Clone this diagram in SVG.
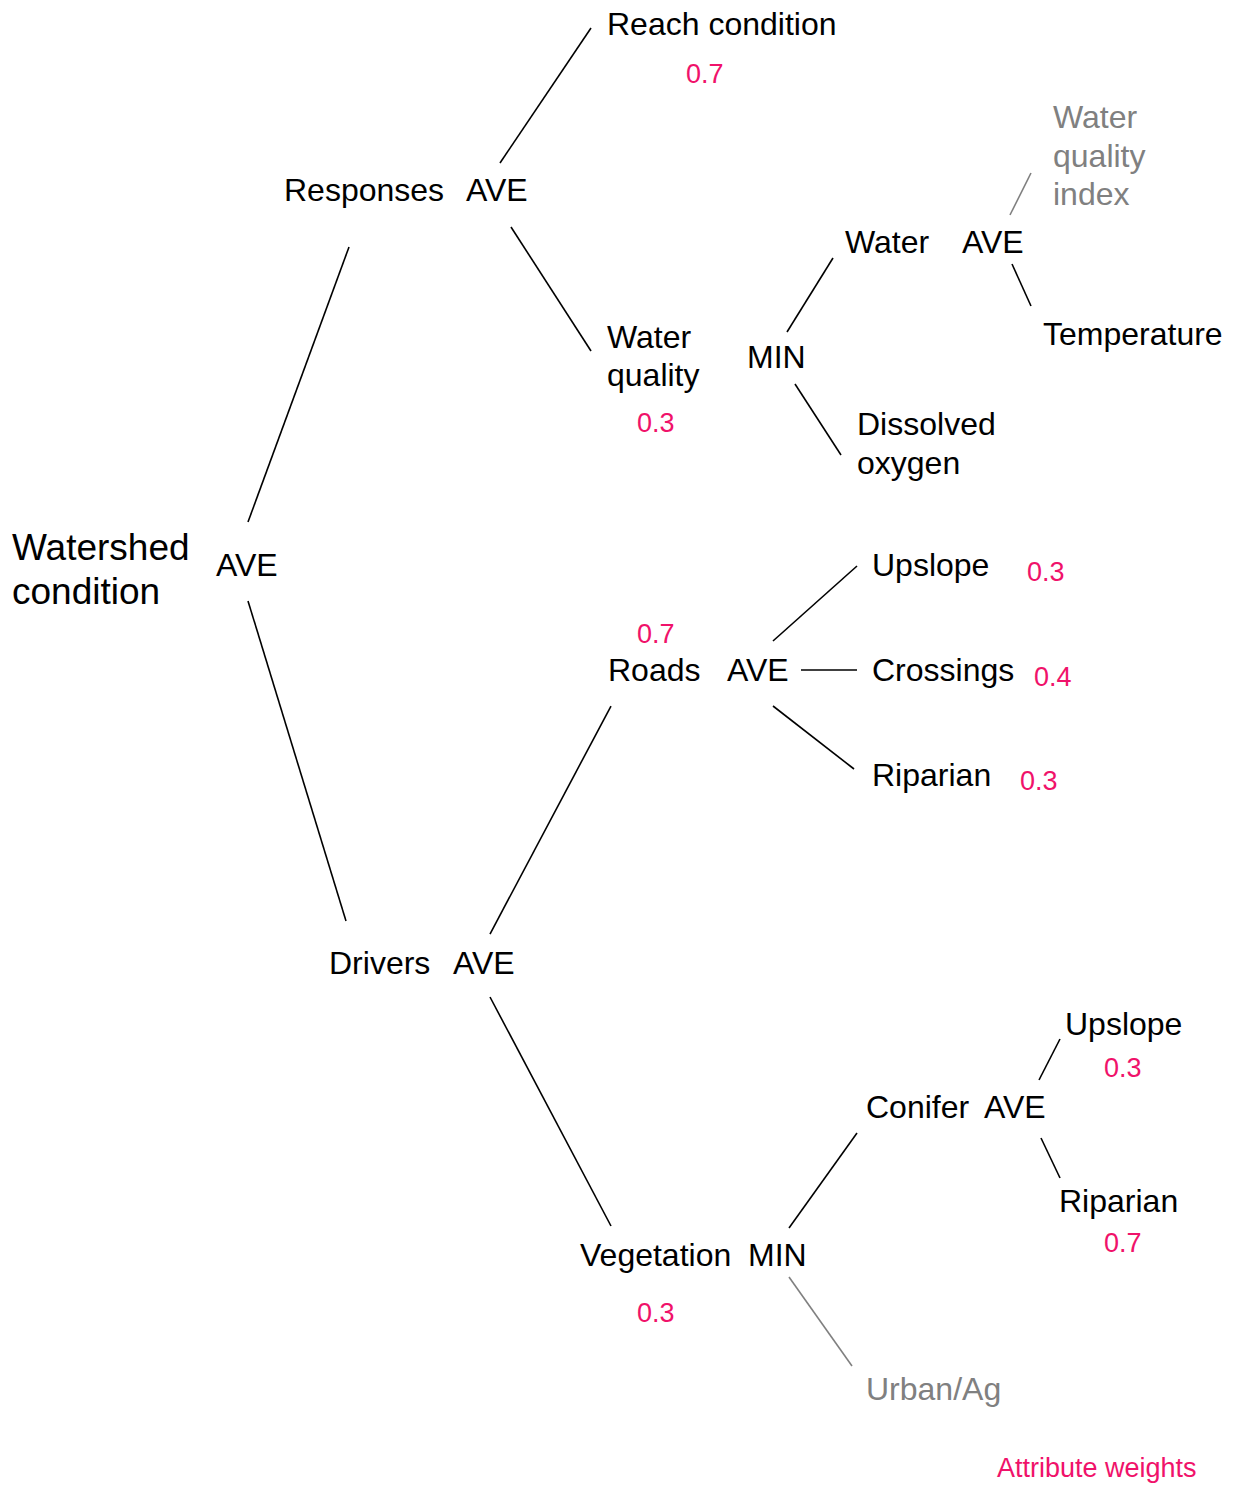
<svg xmlns="http://www.w3.org/2000/svg" width="1235" height="1489" viewBox="0 0 1235 1489">
<style>
text{font-family:"Liberation Sans",Arial,sans-serif;font-size:32px;fill:#000}
.w{fill:#f0126a;font-size:27px}
.g{fill:#808080}
.big{font-size:37px}
#connectors line{stroke:#000;stroke-width:1.6}
#connectors line.gl{stroke:#808080}
</style>
<rect width="1235" height="1489" fill="#fff"/>
<g id="connectors">
<line x1="500" y1="163" x2="591" y2="28"/>
<line x1="511" y1="227" x2="591" y2="351"/>
<line x1="349" y1="247" x2="248" y2="522"/>
<line x1="248" y1="601" x2="346" y2="921"/>
<line x1="490" y1="934" x2="611" y2="706"/>
<line x1="490" y1="997" x2="611" y2="1226"/>
<line x1="787" y1="332" x2="833" y2="258"/>
<line x1="795" y1="384" x2="841" y2="455"/>
<line class="gl" x1="1010" y1="215" x2="1031" y2="173"/>
<line x1="1012" y1="264" x2="1031" y2="306"/>
<line x1="773" y1="641" x2="857" y2="566"/>
<line x1="801" y1="670" x2="857" y2="670"/>
<line x1="773" y1="706" x2="854" y2="769"/>
<line x1="789" y1="1228" x2="857" y2="1133"/>
<line x1="1039" y1="1080" x2="1060" y2="1039"/>
<line x1="1041" y1="1138" x2="1060" y2="1178"/>
<line class="gl" x1="789" y1="1277" x2="852" y2="1366"/>
</g>
<g id="watershed"><text class="big" x="12" y="560">Watershed</text><text class="big" x="12" y="604">condition</text><text x="216" y="576">AVE</text></g>
<g id="responses"><text x="284" y="201">Responses</text><text x="466" y="201">AVE</text></g>
<g id="reach"><text x="607" y="35">Reach condition</text><text class="w" x="686" y="83">0.7</text></g>
<g id="waterquality"><text x="607" y="348">Water</text><text x="607" y="386">quality</text><text class="w" x="637" y="432">0.3</text><text x="747" y="368">MIN</text></g>
<g id="water"><text x="845" y="253">Water</text><text x="962" y="253">AVE</text></g>
<g id="wqi"><text class="g" x="1053" y="128">Water</text><text class="g" x="1053" y="167">quality</text><text class="g" x="1053" y="205">index</text></g>
<g id="temperature"><text x="1043" y="345">Temperature</text></g>
<g id="dissolved"><text x="857" y="435">Dissolved</text><text x="857" y="474">oxygen</text></g>
<g id="roads"><text class="w" x="637" y="643">0.7</text><text x="608" y="681">Roads</text><text x="727" y="681">AVE</text></g>
<g id="upslope1"><text x="872" y="576">Upslope</text><text class="w" x="1027" y="581">0.3</text></g>
<g id="crossings"><text x="872" y="681">Crossings</text><text class="w" x="1034" y="686">0.4</text></g>
<g id="riparian1"><text x="872" y="786">Riparian</text><text class="w" x="1020" y="790">0.3</text></g>
<g id="drivers"><text x="329" y="974">Drivers</text><text x="453" y="974">AVE</text></g>
<g id="conifer"><text x="866" y="1118">Conifer</text><text x="984" y="1118">AVE</text></g>
<g id="upslope2"><text x="1065" y="1035">Upslope</text><text class="w" x="1104" y="1077">0.3</text></g>
<g id="riparian2"><text x="1059" y="1212">Riparian</text><text class="w" x="1104" y="1252">0.7</text></g>
<g id="vegetation"><text x="580" y="1266">Vegetation</text><text x="748" y="1266">MIN</text><text class="w" x="637" y="1322">0.3</text></g>
<g id="urbanag"><text class="g" x="866" y="1400">Urban/Ag</text></g>
<g id="legend"><text class="w" x="997" y="1477">Attribute weights</text></g>
</svg>
